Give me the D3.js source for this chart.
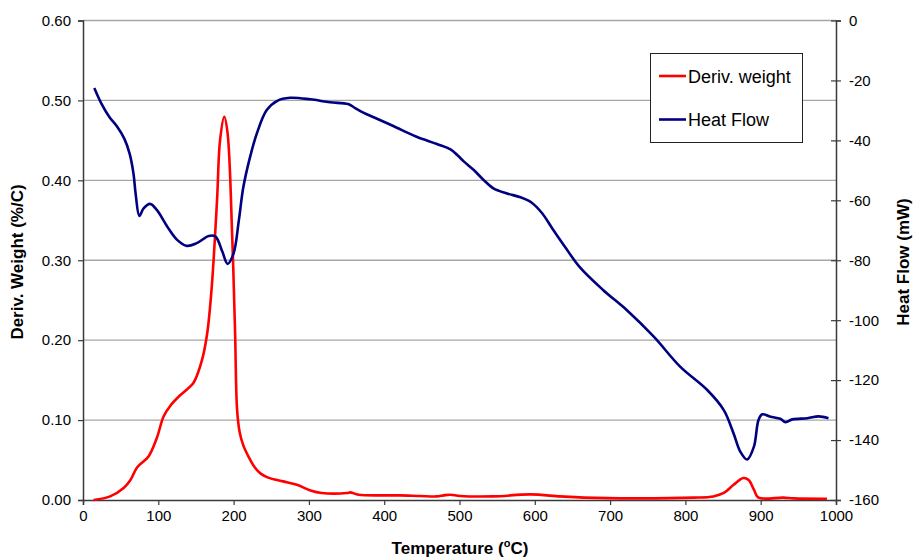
<!DOCTYPE html>
<html>
<head>
<meta charset="utf-8">
<script src="https://cdn.jsdelivr.net/npm/d3@7"></script>
<style>
  body { margin: 0; background: #fff; }
  svg { display: block; font-family: Arial, "Liberation Sans", sans-serif; }
</style>
</head>
<body>
<svg id="chart" width="914" height="558"></svg>
<script>
// Derivative weight (%/C) vs temperature (C)
const dwTemp = [14, 36, 54, 63, 72, 87, 98, 107, 116, 129, 140, 147, 158, 165, 171, 178, 182, 187.6, 192, 198, 202, 204.5, 208, 213, 220, 228, 236, 246, 266, 284, 302, 317, 351, 355, 366, 399, 421, 448, 470, 479, 488, 501, 545, 594, 634, 665, 731, 811, 837, 851, 864, 877, 884, 891, 897, 930, 944, 988];
const dwValue = [0.000, 0.0045, 0.015, 0.025, 0.041, 0.0545, 0.0775, 0.1045, 0.118, 0.131, 0.140, 0.147, 0.175, 0.209, 0.267, 0.375, 0.450, 0.4795, 0.459, 0.334, 0.209, 0.115, 0.085, 0.068, 0.054, 0.041, 0.033, 0.028, 0.0233, 0.019, 0.012, 0.0088, 0.0088, 0.0095, 0.0066, 0.0058, 0.0058, 0.005, 0.0045, 0.0058, 0.0066, 0.005, 0.0045, 0.007, 0.0045, 0.003, 0.002, 0.003, 0.0045, 0.0088, 0.019, 0.0275, 0.025, 0.0129, 0.003, 0.003, 0.002, 0.0016];

// Heat flow (mW) vs temperature (C)
const hfTemp = [15, 25, 35, 45, 55, 62, 67, 70, 74.8, 80.5, 89, 98, 112, 125, 138, 151, 167, 176, 185, 192, 200, 207, 213, 222, 231, 244, 258, 275, 302, 328, 352, 362, 373, 386, 412, 443, 470, 488, 497, 506, 519, 532, 545, 563, 581, 596, 610, 623, 640, 660, 691, 722, 758, 793, 829, 851, 864, 873, 882, 891, 897, 902, 913, 926, 933, 942, 962, 977, 990];
const hfValue = [-22.5, -28, -32.2, -35.3, -39.5, -44.5, -51, -58, -65.2, -62.7, -61.2, -63.2, -68.8, -73.2, -75.2, -74.3, -71.9, -72.1, -77.1, -81.2, -77.7, -66.6, -55.5, -45.4, -37.6, -29.9, -26.8, -25.8, -26.3, -27.3, -27.9, -29.3, -30.8, -32.3, -35.2, -38.8, -41.2, -43, -44.9, -47.1, -49.9, -53.2, -56, -57.7, -59, -60.8, -64.4, -69.3, -75.5, -82.4, -90, -96.6, -105.5, -115.5, -123.3, -130, -137.8, -143.9, -146.5, -142.2, -133.4, -131.4, -132.2, -132.9, -134, -133.1, -132.7, -132.1, -132.7];

const xTicks = [0, 100, 200, 300, 400, 500, 600, 700, 800, 900, 1000];
const leftTicks = [0, 0.1, 0.2, 0.3, 0.4, 0.5, 0.6];
const rightTicks = [0, -20, -40, -60, -80, -100, -120, -140, -160];

const seriesNames = ['Deriv. weight', 'Heat Flow'];
const seriesColors = ['#ff0000', '#000080'];

const margin = { left: 83, right: 836, top: 20.5, bottom: 500 };

const svg = d3.select('#chart');

const x = d3.scaleLinear().domain([0, 1000]).range([margin.left, margin.right]);
const yL = d3.scaleLinear().domain([0, 0.6]).range([margin.bottom, margin.top]);
const yR = d3.scaleLinear().domain([-160, 0]).range([margin.bottom, margin.top]);

// Gridlines
svg.append('g').selectAll('line')
    .data(leftTicks.filter(d => d > 0)).enter().append('line')
    .attr('x1', margin.left).attr('x2', margin.right)
    .attr('y1', d => yL(d)).attr('y2', d => yL(d))
    .attr('stroke', '#a6a6a6').attr('stroke-width', 1.3);

// Axes
const fontSize = '15px';
const axisColor = '#3a3a3a';

const gx = svg.append('g')
    .attr('transform', `translate(0,${margin.bottom})`)
    .call(d3.axisBottom(x).tickValues(xTicks).tickSize(5).tickPadding(5).tickFormat(d3.format('d')));

const gl = svg.append('g')
    .attr('transform', `translate(${margin.left},0)`)
    .call(d3.axisLeft(yL).tickValues(leftTicks).tickSize(5).tickPadding(7).tickFormat(d3.format('.2f')));

const gr = svg.append('g')
    .attr('transform', `translate(${margin.right},0)`)
    .call(d3.axisRight(yR).tickValues(rightTicks).tickSize(5).tickPadding(8).tickFormat(d => d3.format('d')(d).replace('\u2212', '-')));
gr.selectAll('.tick line').attr('x1', -5);

[gx, gl, gr].forEach(g => {
    g.select('.domain').attr('stroke', axisColor).attr('stroke-width', 1.5);
    g.selectAll('.tick line').attr('stroke', axisColor).attr('stroke-width', 1.2);
    g.selectAll('.tick text').attr('font-size', fontSize).attr('fill', '#000')
        .attr('font-family', 'Arial, "Liberation Sans", sans-serif');
});

// Lines
const dwLine = d3.line().x(d => x(d[0])).y(d => yL(d[1])).curve(d3.curveCatmullRom.alpha(0.5));
const hfLine = d3.line().x(d => x(d[0])).y(d => yR(d[1])).curve(d3.curveCatmullRom.alpha(0.5));

svg.append('path')
    .datum(dwTemp.map((t, i) => [t, dwValue[i]]))
    .attr('d', dwLine)
    .attr('fill', 'none').attr('stroke', seriesColors[0]).attr('stroke-width', 2.6)
    .attr('stroke-linejoin', 'round');

svg.append('path')
    .datum(hfTemp.map((t, i) => [t, hfValue[i]]))
    .attr('d', hfLine)
    .attr('fill', 'none').attr('stroke', seriesColors[1]).attr('stroke-width', 2.6)
    .attr('stroke-linejoin', 'round');

// Legend
const legend = svg.append('g');
legend.append('rect')
    .attr('x', 650.5).attr('y', 53.5).attr('width', 152).attr('height', 89)
    .attr('fill', '#fff').attr('stroke', '#222').attr('stroke-width', 1);

seriesNames.forEach((name, i) => {
    const ly = 76 + i * 43.5;
    legend.append('line')
        .attr('x1', 659).attr('x2', 686).attr('y1', ly).attr('y2', ly)
        .attr('stroke', seriesColors[i]).attr('stroke-width', 2.6);
    legend.append('text')
        .attr('x', 688).attr('y', ly + 6.5)
        .attr('font-size', '18px').attr('fill', '#000')
        .text(name);
});

// Axis titles
svg.append('text')
    .attr('transform', 'translate(23,262) rotate(-90)')
    .attr('text-anchor', 'middle')
    .attr('font-size', '17px').attr('font-weight', 'bold')
    .text('Deriv. Weight (%/C)');

svg.append('text')
    .attr('transform', 'translate(909,262) rotate(-90)')
    .attr('text-anchor', 'middle')
    .attr('font-size', '17px').attr('font-weight', 'bold')
    .text('Heat Flow (mW)');

const xt = svg.append('text')
    .attr('x', 460).attr('y', 554)
    .attr('text-anchor', 'middle')
    .attr('font-size', '17px').attr('font-weight', 'bold');
xt.append('tspan').text('Temperature (');
xt.append('tspan').attr('font-size', '11px').attr('dy', -7).text('o');
xt.append('tspan').attr('dy', 7).text('C)');
</script>
</body>
</html>
